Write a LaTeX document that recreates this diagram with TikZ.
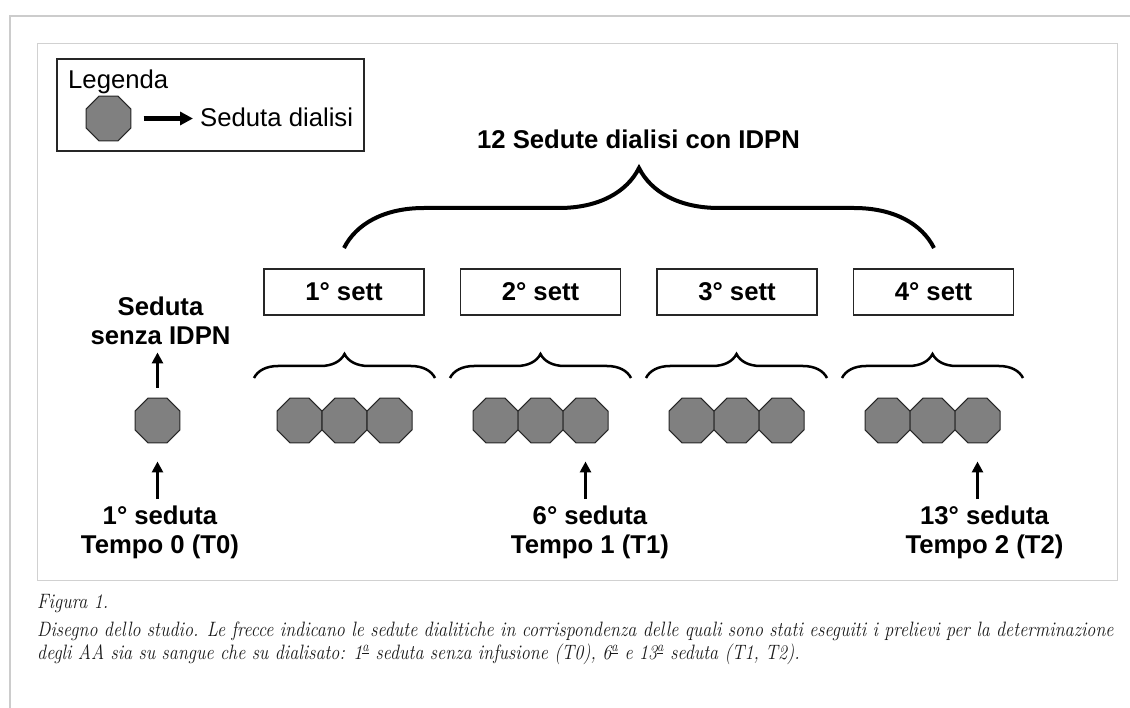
\documentclass[tikz,border=0pt]{standalone}
\usepackage{fontspec}
\newfontfamily\arialfont{Liberation Sans}
\usetikzlibrary{arrows.meta,shapes.geometric,decorations.pathreplacing}
\newcommand{\ordA}{\textsuperscript{\underline{a}}}

\begin{document}
\begin{tikzpicture}[x=1pt,y=-1pt,
    testo/.style={font=\arialfont\fontsize{25.7}{29}\selectfont, inner sep=0pt},
    grassetto/.style={font=\arialfont\bfseries\fontsize{25.7}{29}\selectfont, inner sep=0pt, align=center},
    seduta/.style={regular polygon, regular polygon sides=8, minimum size=48.7pt, inner sep=0pt, draw=black!85, line width=1pt, fill=gray},
    settimana/.style={draw=black!85, line width=1.2pt, minimum width=160pt, minimum height=46pt, inner sep=0pt},
    freccia/.style={line width=3pt, -{Triangle[width=11pt,length=11pt]}},
    graffa/.style={line width=2.5pt, decorate, decoration={brace, amplitude=24pt}},
    didascalia/.style={font=\itshape\fontsize{18.1}{23}\selectfont, inner sep=0pt, text=black!90}]

    \useasboundingbox (0,0) rectangle (1130,708);

    % Cornici
    \draw[black!20, line width=1.8pt] (10,708) -- (10,16) -- (1130,16);
    \draw[black!18, line width=1pt] (37,44) rectangle (1117,580);

    % Legenda
    \draw[black!85, line width=1.2pt] (57,59) rectangle (364,151);
    \node[testo, anchor=base west] (leg) at (68,89) {Legenda};
    \node[seduta] (leg0) at (108.5,118.5) {};
    \node[testo, anchor=base west] (legtxt) at (200,127) {Seduta dialisi};
    \draw[line width=5pt, -{Triangle[width=13pt,length=13pt]}, shorten <=12pt, shorten >=7pt] (leg0.east) -- (leg0.east -| legtxt.west);

    % Graffa grande
    \node[grassetto] (titolo) at (638.5,139) {12 Sedute dialisi con IDPN};
    \draw[line width=4pt, decorate, decoration={brace, amplitude=80pt}] (344,248) -- (934,248);

    % Settimane
    \node[settimana, grassetto] (w1) at (344,292) {1° sett};
    \node[settimana, grassetto] (w2) at (540.5,292) {2° sett};
    \node[settimana, grassetto] (w3) at (737,292) {3° sett};
    \node[settimana, grassetto] (w4) at (933.5,292) {4° sett};

    % Graffe piccole
    \draw[graffa] (254,378) -- (435,378);
    \draw[graffa] (450,378) -- (631,378);
    \draw[graffa] (646,378) -- (827,378);
    \draw[graffa] (842,378) -- (1023,378);

    % Sedute
    \node[seduta] (sed0) at (157.5,420.5) {};
    \node[seduta] (sed1) at (299.5,420.5) {};
    \node[seduta] (sed2) at (344.5,420.5) {};
    \node[seduta] (sed3) at (389.5,420.5) {};
    \node[seduta] (sed4) at (495.5,420.5) {};
    \node[seduta] (sed5) at (540.5,420.5) {};
    \node[seduta] (sed6) at (585.5,420.5) {};
    \node[seduta] (sed7) at (691.5,420.5) {};
    \node[seduta] (sed8) at (736.5,420.5) {};
    \node[seduta] (sed9) at (781.5,420.5) {};
    \node[seduta] (sed10) at (887.5,420.5) {};
    \node[seduta] (sed11) at (932.5,420.5) {};
    \node[seduta] (sed12) at (977.5,420.5) {};

    % Etichette
    \node[grassetto, anchor=base] (pre) at (160.5,345) {Seduta\\senza IDPN};
    \node[grassetto, anchor=base] (t0) at (160,553) {1° seduta\\Tempo 0 (T0)};
    \node[grassetto, anchor=base] (t1) at (590,553) {6° seduta\\Tempo 1 (T1)};
    \node[grassetto, anchor=base] (t2) at (984.5,553) {13° seduta\\Tempo 2 (T2)};

    % Frecce
    \draw[freccia, shorten <=10pt, shorten >=7pt] (sed0.north) -- (sed0.north |- pre.south);
    \draw[freccia, shorten <=6pt, shorten >=18pt] (t0.north -| sed0) -- (sed0.south);
    \draw[freccia, shorten <=6pt, shorten >=18pt] (t1.north -| sed6) -- (sed6.south);
    \draw[freccia, shorten <=6pt, shorten >=18pt] (t2.north -| sed12) -- (sed12.south);

    % Didascalia
    \node[didascalia, anchor=base west] (fig) at (37,608) {\scalebox{1}[1.15]{Figura 1.}};
    \node[didascalia, anchor=base west] (did1) at (37,636) {\scalebox{1}[1.15]{Disegno dello studio. Le frecce indicano le sedute dialitiche in corrispondenza delle quali sono stati eseguiti i prelievi per la determinazione}};
    \node[didascalia, anchor=base west] (did2) at (37,659) {\scalebox{1}[1.15]{degli AA sia su sangue che su dialisato: 1\ordA{} seduta senza infusione (T0), 6\ordA{} e 13\ordA{} seduta (T1, T2).}};

\end{tikzpicture}
\end{document}
